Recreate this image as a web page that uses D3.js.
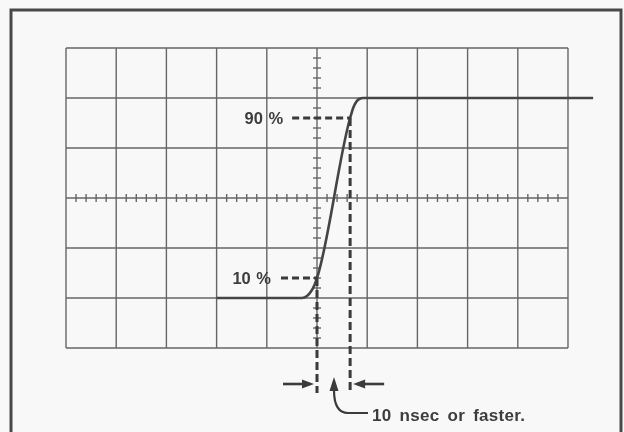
<!DOCTYPE html>
<html>
<head>
<meta charset="utf-8">
<script src="https://cdn.jsdelivr.net/npm/d3@7"></script>
<style>
  body { margin: 0; background: #f8f8f8; }
  text { font-family: "Liberation Sans", Arial, sans-serif; font-weight: bold; fill: #3c3c3c; }
</style>
</head>
<body>
<div id="scope"></div>
<script>
// graticule, in divisions
const xDivs = [0, 1, 2, 3, 4, 5, 6, 7, 8, 9, 10];
const yDivs = [0, 1, 2, 3, 4, 5, 6];
const minorStep = 0.2;

// step response trace (time div, amplitude div)
const traceX = [3.0, 4.5, 4.7, 4.8, 4.88, 4.95, 5.0, 5.66, 5.72, 5.78, 5.84, 5.92, 10.5];
const traceY = [1.0, 1.0, 1.0, 1.04, 1.13, 1.26, 1.4, 4.6, 4.8, 4.92, 4.98, 5.0, 5.0];

// 10% / 90% markers
const levelNames = ["10 %", "90 %"];
const levelY = [1.4, 4.6];
const levelX = [5.0, 5.66];
const note = "10 nsec or faster.";

const width = 624, height = 432;
const margin = { top: 48, bottom: 84, left: 66, right: 56 };

const svg = d3.select("#scope").append("svg")
  .attr("width", width)
  .attr("height", height);

svg.append("defs").append("filter").attr("id", "soft")
  .append("feGaussianBlur").attr("stdDeviation", 0.45);

const root = svg.append("g").attr("filter", "url(#soft)");

const x = d3.scaleLinear().domain([0, 10]).range([margin.left, width - margin.right]);
const y = d3.scaleLinear().domain([0, 6]).range([height - margin.bottom, margin.top]);

// outer frame
root.append("rect")
  .attr("x", 11).attr("y", 10)
  .attr("width", 610).attr("height", 440)
  .attr("fill", "none")
  .attr("stroke", "#4a4a4a")
  .attr("stroke-width", 3);

const grid = root.append("g").attr("stroke", "#666").attr("stroke-width", 1.4);

grid.selectAll("line.v").data(xDivs).join("line")
  .attr("class", "v")
  .attr("x1", d => x(d)).attr("x2", d => x(d))
  .attr("y1", y(0)).attr("y2", y(6));

grid.selectAll("line.h").data(yDivs).join("line")
  .attr("class", "h")
  .attr("x1", x(0)).attr("x2", x(10))
  .attr("y1", d => y(d)).attr("y2", d => y(d));

// minor ticks on centre axes
const xMinor = d3.range(0, 10 + 1e-6, minorStep).filter(d => Math.abs(d - Math.round(d)) > 1e-6);
const yMinor = d3.range(0, 6 + 1e-6, minorStep).filter(d => Math.abs(d - Math.round(d)) > 1e-6);

grid.selectAll("line.xt").data(xMinor).join("line")
  .attr("class", "xt")
  .attr("x1", d => x(d)).attr("x2", d => x(d))
  .attr("y1", y(3) - 4).attr("y2", y(3) + 4);

grid.selectAll("line.yt").data(yMinor).join("line")
  .attr("class", "yt")
  .attr("x1", x(5) - 4).attr("x2", x(5) + 4)
  .attr("y1", d => y(d)).attr("y2", d => y(d));

// trace
const line = d3.line()
  .x(d => x(d[0]))
  .y(d => y(d[1]))
  .curve(d3.curveMonotoneX);

root.append("path")
  .datum(d3.zip(traceX, traceY))
  .attr("d", line)
  .attr("fill", "none")
  .attr("stroke", "#444")
  .attr("stroke-width", 2.6);

// level markers
const ink = "#3a3a3a";
levelNames.forEach((name, i) => {
  const px = x(levelX[i]), py = y(levelY[i]);
  root.append("text")
    .attr("x", i === 0 ? px - 46 : px - 67)
    .attr("y", py + 6)
    .attr("text-anchor", "end")
    .attr("font-size", 16.5)
    .attr("word-spacing", 1)
    .text(name);
  root.append("line")
    .attr("x1", i === 0 ? px - 36 : px - 58).attr("x2", px)
    .attr("y1", py).attr("y2", py)
    .attr("stroke", ink).attr("stroke-width", 2.8)
    .attr("stroke-dasharray", "7,4");
  root.append("line")
    .attr("x1", px).attr("x2", px)
    .attr("y1", py).attr("y2", 393)
    .attr("stroke", ink).attr("stroke-width", 3)
    .attr("stroke-dasharray", "8,4");
});

// arrows between markers
const ay = 384;
const x10 = x(levelX[0]), x90 = x(levelX[1]);
function arrowHead(tipX, tipY, dir) {
  // dir: 1 right, -1 left
  root.append("path")
    .attr("d", `M${tipX},${tipY} L${tipX - dir * 12},${tipY - 4.5} L${tipX - dir * 12},${tipY + 4.5} Z`)
    .attr("fill", ink);
}
root.append("line").attr("x1", x10 - 34).attr("x2", x10 - 8).attr("y1", ay).attr("y2", ay)
  .attr("stroke", ink).attr("stroke-width", 2.6);
arrowHead(x10 - 3, ay, 1);
root.append("line").attr("x1", x90 + 34).attr("x2", x90 + 8).attr("y1", ay).attr("y2", ay)
  .attr("stroke", ink).attr("stroke-width", 2.6);
arrowHead(x90 + 3, ay, -1);

// curved pointer to note
root.append("path")
  .attr("d", `M368,413 L348,413 Q334,413 334,390`)
  .attr("fill", "none").attr("stroke", ink).attr("stroke-width", 2.2);
root.append("path")
  .attr("d", "M334,377 L329.5,391 L338.5,391 Z")
  .attr("fill", ink);

root.append("text")
  .attr("x", 372).attr("y", 421)
  .attr("font-size", 17)
  .attr("word-spacing", 3)
  .attr("letter-spacing", 0.3)
  .text(note);
</script>
</body>
</html>
